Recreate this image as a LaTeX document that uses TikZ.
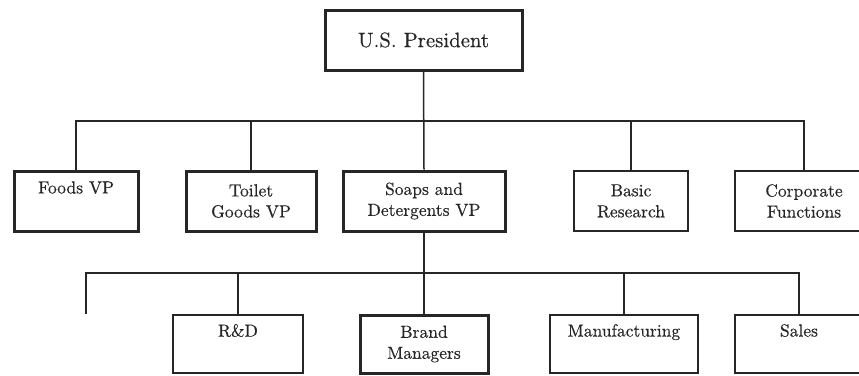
\documentclass[tikz,border=0pt]{standalone}
\usepackage{fontspec}
\setmainfont{lmroman10-regular.otf}[FakeBold=0.4]
\usepackage{tikz}
\begin{document}
\begin{tikzpicture}[x=1pt,y=-1pt,
  box/.style={draw=black!85, rectangle, inner sep=0pt, minimum height=60pt, align=center,
    text=black!85, font=\fontsize{17.5}{21}\selectfont},
  thickbox/.style={box, line width=3pt},
  thinbox/.style={box, line width=1.5pt},
  lowbox/.style={minimum height=58pt},
  conn/.style={draw=black!85, line width=1.5pt}]
\useasboundingbox (0,0) rectangle (859,375);
\clip (0,0) rectangle (859,375);
% top
\node[thickbox, minimum width=197pt, font=\fontsize{20.8}{24}\selectfont] (pres) at (423.5,40) {U.S. President};
% level 1
\node[thickbox, minimum width=124pt] (foods) at (76,201) {Foods VP\\\strut};
\node[thickbox, minimum width=130pt] (toilet) at (251,201) {Toilet\\Goods VP};
\node[thickbox, minimum width=162pt] (soaps) at (424,201) {Soaps and\\Detergents VP};
\node[thinbox, minimum width=114pt] (basic) at (631,201) {Basic\\Research};
\node[thinbox, minimum width=138pt] (corp) at (804,201) {Corporate\\Functions};
% level 2
\node[thinbox, lowbox, minimum width=130pt] (rd) at (238,344) {R\&D\\\strut};
\node[thickbox, lowbox, minimum width=128pt] (brand) at (424,344) {Brand\\Managers};
\node[thinbox, lowbox, minimum width=148pt] (manuf) at (624,344) {Manufacturing\\\strut};
\node[thinbox, lowbox, minimum width=128pt] (sales) at (799,344) {Sales\\\strut};
% connectors level 1
\coordinate (h1l) at (76,121);
\coordinate (h1r) at (804,121);
\draw[conn] (pres.south) -- (soaps.north);
\draw[conn] (foods.north) -- (h1l) -- (h1r) -- (corp.north);
\draw[conn] (toilet.north) -- (toilet.north |- h1l);
\draw[conn] (basic.north) -- (basic.north |- h1l);
% connectors level 2
\coordinate (h2l) at (86,273);
\coordinate (h2r) at (799,273);
\coordinate (stub) at (86,314);
\draw[conn] (soaps.south) -- (brand.north);
\draw[conn] (stub) -- (h2l) -- (h2r) -- (sales.north);
\draw[conn] (rd.north) -- (rd.north |- h2l);
\draw[conn] (manuf.north) -- (manuf.north |- h2l);
\end{tikzpicture}
\end{document}
